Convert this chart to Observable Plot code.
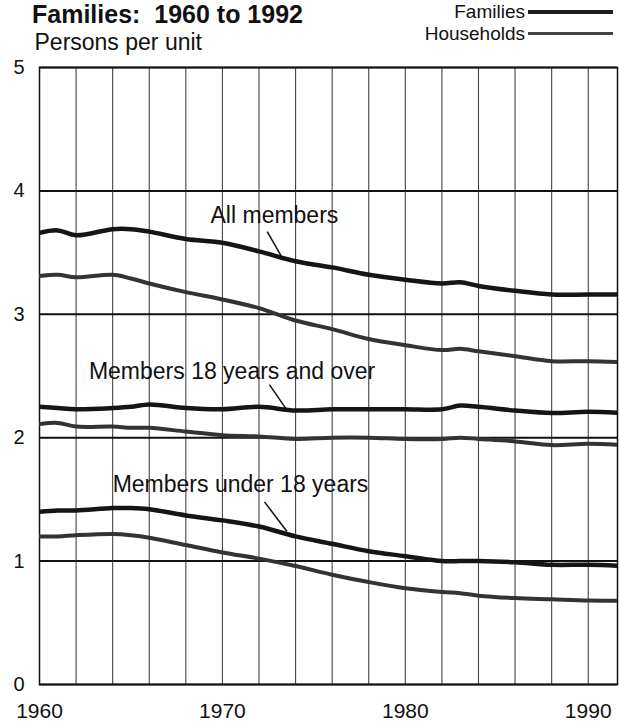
<!DOCTYPE html>
<html>
<head>
<meta charset="utf-8">
<script src="https://cdn.jsdelivr.net/npm/d3@7"></script>
<script src="https://cdn.jsdelivr.net/npm/@observablehq/plot@0.6"></script>
<style>
  body { margin: 0; background: #fff; }
  #wrap { position: relative; width: 620px; height: 728px; overflow: hidden;
          font-family: "Liberation Sans", Arial, Helvetica, sans-serif; color: #111; background: #fff; }
  #title { position: absolute; left: 32px; top: 2px; font-size: 25px; font-weight: bold;
           line-height: 25px; white-space: nowrap; }
  .legrow { position: absolute; right: 7px; display: flex; align-items: center; font-size: 19px;
            line-height: 21px; height: 21px; white-space: nowrap; }
  .legrow .sw { display: inline-block; width: 85px; margin-left: 3px; }
  #chart { position: absolute; left: 0; top: 0; }
</style>
</head>
<body>
<div id="wrap">
  <div id="chart"></div>
  <div id="title">Families:&nbsp; 1960 to 1992</div>
  <div class="legrow" style="top:1px"><span>Families</span><span class="sw" style="height:4px;background:#1c1c1c"></span></div>
  <div class="legrow" style="top:23px"><span>Households</span><span class="sw" style="height:3px;background:#444"></span></div>
</div>
<script>
// ---- data (persons per unit) ----
const years = [1960,1961,1962,1964,1965,1966,1968,1970,1972,1974,1976,1978,1980,1982,1983,1984,1986,1988,1990,1992];

const familiesAll     = [3.66,3.68,3.64,3.69,3.69,3.67,3.61,3.58,3.51,3.43,3.38,3.32,3.28,3.25,3.26,3.23,3.19,3.16,3.16,3.16];
const householdsAll   = [3.31,3.32,3.30,3.32,3.29,3.25,3.18,3.12,3.05,2.95,2.88,2.80,2.75,2.71,2.72,2.70,2.66,2.62,2.62,2.61];
const families18over  = [2.25,2.24,2.23,2.24,2.25,2.27,2.24,2.23,2.25,2.22,2.23,2.23,2.23,2.23,2.26,2.25,2.22,2.20,2.21,2.20];
const households18over= [2.11,2.12,2.09,2.09,2.08,2.08,2.05,2.02,2.01,1.99,2.00,2.00,1.99,1.99,2.00,1.99,1.97,1.94,1.95,1.94];
const familiesUnder18 = [1.40,1.41,1.41,1.43,1.43,1.42,1.37,1.33,1.28,1.20,1.14,1.08,1.04,1.00,1.00,1.00,0.99,0.97,0.97,0.96];
const householdsUnder18=[1.20,1.20,1.21,1.22,1.21,1.19,1.13,1.07,1.02,0.96,0.89,0.83,0.78,0.75,0.74,0.72,0.70,0.69,0.68,0.68];

const xTickLabels = [1960,1970,1980,1990];
const yTickLabels = [0,1,2,3,4,5];
const gridYears = [1962,1964,1966,1968,1970,1972,1974,1976,1978,1980,1982,1984,1986,1988,1990];

const labelTexts  = ["All members","Members 18 years and over","Members under 18 years"];
const labelYears  = [1969.35, 1962.7, 1964.0];
const labelValues = [3.80, 2.535, 1.62];
const leaderFrom  = [[1972.45,3.67],[1972.57,2.43],[1972.3,1.48]];
const leaderTo    = [[1973.3,3.45],[1973.5,2.23],[1973.53,1.24]];

// ---- build tables ----
const seriesDefs = [
  {name:"Families all", kind:"Families", values:familiesAll},
  {name:"Households all", kind:"Households", values:householdsAll},
  {name:"Families 18+", kind:"Families", values:families18over},
  {name:"Households 18+", kind:"Households", values:households18over},
  {name:"Families <18", kind:"Families", values:familiesUnder18},
  {name:"Households <18", kind:"Households", values:householdsUnder18}
];
const rows = [];
for (const s of seriesDefs) years.forEach((yr, i) => rows.push({year: yr, value: s.values[i], series: s.name, kind: s.kind}));
const famRows = rows.filter(d => d.kind === "Families");
const hhRows = rows.filter(d => d.kind === "Households");
const labels = labelTexts.map((t, i) => ({text: t, year: labelYears[i], value: labelValues[i]}));
const leaders = leaderFrom.map((f, i) => ({x1: f[0], y1: f[1], x2: leaderTo[i][0], y2: leaderTo[i][1]}));

const chart = Plot.plot({
  width: 620,
  height: 728,
  marginTop: 67,
  marginBottom: 44,
  marginLeft: 39,
  marginRight: 3,
  style: {fontFamily: '"Liberation Sans", Arial, Helvetica, sans-serif', color: "#111", background: "#fff"},
  x: {domain: [1960, 1991.6]},
  y: {domain: [0, 5]},
  marks: [
    Plot.ruleX(gridYears, {stroke: "#444", strokeWidth: 1.1}),
    Plot.ruleY(yTickLabels, {stroke: "#111", strokeWidth: 2}),
    Plot.frame({stroke: "#111", strokeWidth: 1.5}),
    Plot.line(hhRows, {x: "year", y: "value", z: "series", stroke: "#333", strokeWidth: 4, curve: "catmull-rom", clip: true}),
    Plot.line(famRows, {x: "year", y: "value", z: "series", stroke: "#151515", strokeWidth: 4.5, curve: "catmull-rom", clip: true}),
    Plot.link(leaders, {x1: "x1", y1: "y1", x2: "x2", y2: "y2", stroke: "#111", strokeWidth: 1.5}),
    Plot.text(labels, {x: "year", y: "value", text: "text", textAnchor: "start", lineAnchor: "middle", fontSize: 23, fill: "#111"}),
    Plot.text(["Persons per unit"], {frameAnchor: "top-left", dx: -5, dy: -24.5, textAnchor: "start", lineAnchor: "middle", fontSize: 23, fill: "#111"}),
    Plot.axisX({ticks: xTickLabels, tickSize: 0, tickPadding: 19, fontSize: 21, tickFormat: d => String(d), label: null}),
    Plot.axisY({ticks: yTickLabels, tickSize: 0, tickPadding: 15, fontSize: 20, tickFormat: d => String(d), label: null})
  ]
});
document.getElementById("chart").appendChild(chart);
</script>
</body>
</html>
